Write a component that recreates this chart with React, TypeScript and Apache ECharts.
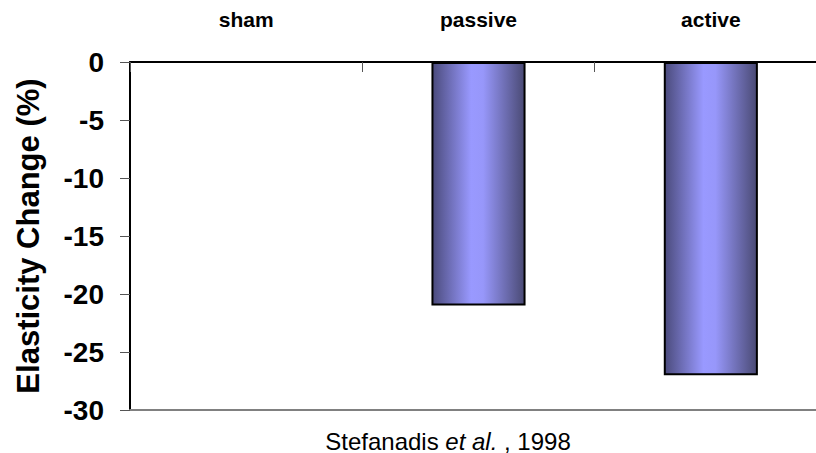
import React, { useEffect, useRef } from "react";
import * as echarts from "echarts";

const categories = ["sham", "passive", "active"];
const elasticityChange = [0, -21, -27];
const yTicks = { min: -30, max: 0, interval: 5 };
const yAxisTitle = "Elasticity Change (%)";
const sourceNote = "Stefanadis {i|et al.} , 1998";

export default function App() {
  const ref = useRef<HTMLDivElement>(null);
  useEffect(() => {
    if (!ref.current) return;
    const chart = echarts.init(ref.current, null, { renderer: "svg" });
    const font = "Arial, 'Liberation Sans', Helvetica, sans-serif";
    chart.setOption({
      animation: false,
      backgroundColor: "#ffffff",
      grid: {
        left: 130,
        top: 62,
        width: 697,
        height: 348,
        containLabel: false,
        outerBoundsMode: "none",
      },
      xAxis: [
        {
          type: "category",
          data: categories,
          position: "top",
          axisLine: { show: true, lineStyle: { color: "#000", width: 2 } },
          axisTick: { show: true, inside: true, length: 10, lineStyle: { color: "#555", width: 1 } },
          axisLabel: { margin: 32, fontFamily: font, fontWeight: "bold", fontSize: 21, color: "#000" },
          splitLine: { show: false },
        },
        {
          type: "category",
          data: categories,
          position: "bottom",
          axisLine: { show: true, lineStyle: { color: "#808080", width: 2 } },
          axisTick: { show: false },
          axisLabel: { show: false },
        },
      ],
      yAxis: {
        type: "value",
        min: yTicks.min,
        max: yTicks.max,
        interval: yTicks.interval,
        name: yAxisTitle,
        nameLocation: "middle",
        nameGap: 86,
        nameRotate: 90,
        nameTextStyle: { fontFamily: font, fontWeight: "bold", fontSize: 31, color: "#000" },
        axisLine: { show: true, lineStyle: { color: "#000", width: 2 } },
        axisTick: { show: true, inside: false, length: 10, lineStyle: { color: "#555", width: 1 } },
        axisLabel: { margin: 26, fontFamily: font, fontWeight: "bold", fontSize: 28, color: "#000" },
        splitLine: { show: false },
      },
      series: [
        {
          type: "bar",
          xAxisIndex: 0,
          data: elasticityChange,
          barWidth: "40.5%",
          itemStyle: {
            borderColor: "#000",
            borderWidth: 2,
            color: new echarts.graphic.LinearGradient(0, 0, 1, 0, [
              { offset: 0, color: "#4b4b7c" },
              { offset: 0.42, color: "#9999ff" },
              { offset: 0.55, color: "#9797fa" },
              { offset: 1, color: "#4a4a74" },
            ]),
          },
        },
      ],
      graphic: [
        {
          type: "text",
          x: 448,
          y: 441,
          style: {
            text: sourceNote,
            fontFamily: font,
            fontSize: 24,
            fill: "#000",
            textAlign: "center",
            textVerticalAlign: "middle",
            rich: { i: { fontStyle: "italic", fontFamily: font, fontSize: 24 } },
          },
        },
      ],
    });
    return () => chart.dispose();
  }, []);
  return (
    <div
      ref={ref}
      style={{ position: "fixed", left: 0, top: 0, width: 816, height: 453 }}
    />
  );
}
